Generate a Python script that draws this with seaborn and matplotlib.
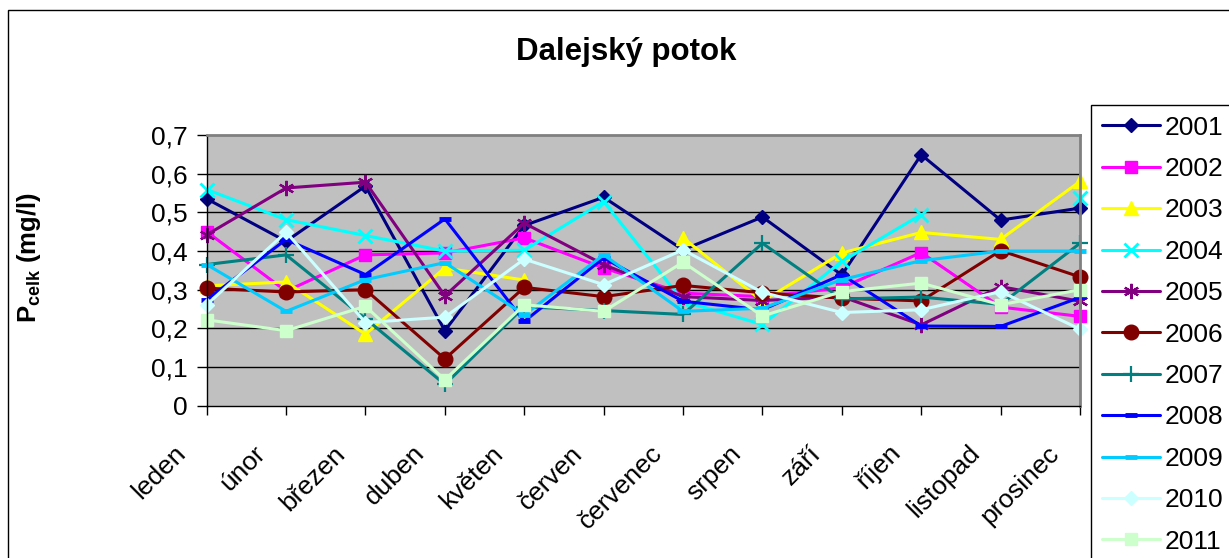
import numpy as np
import pandas as pd
import matplotlib
matplotlib.use("Agg")
import matplotlib.pyplot as plt
import matplotlib.transforms as mtransforms
from matplotlib.lines import Line2D
from matplotlib.patches import Rectangle
import seaborn as sns

# --- Data ---
months = ["leden", "únor", "březen", "duben", "květen", "červen",
          "červenec", "srpen", "září", "říjen", "listopad", "prosinec"]
years = ["2001", "2002", "2003", "2004", "2005", "2006",
         "2007", "2008", "2009", "2010", "2011"]

p2001 = [0.535, 0.425, 0.568, 0.194, 0.466, 0.539, 0.403, 0.488, 0.338, 0.649, 0.480, 0.511]
p2002 = [0.450, 0.296, 0.390, 0.395, 0.434, 0.356, 0.291, 0.282, 0.305, 0.396, 0.255, 0.231]
p2003 = [0.310, 0.320, 0.185, 0.356, 0.325, np.nan, 0.434, 0.270, 0.395, 0.448, 0.430, 0.580]
p2004 = [0.559, 0.481, 0.440, 0.400, 0.402, 0.528, 0.270, 0.210, 0.373, 0.494, np.nan, 0.537]
p2005 = [0.442, 0.563, 0.578, 0.284, 0.472, 0.365, 0.282, 0.272, 0.282, 0.209, 0.308, 0.270]
p2006 = [0.304, 0.294, 0.300, 0.121, 0.306, 0.282, 0.311, 0.292, 0.278, 0.271, 0.401, 0.333]
p2007 = [0.365, 0.390, 0.225, 0.055, 0.256, 0.246, 0.236, 0.420, 0.276, 0.281, 0.262, 0.420]
p2008 = [0.274, 0.430, 0.339, 0.483, 0.218, 0.382, 0.270, 0.248, 0.339, 0.206, 0.205, 0.280]
p2009 = [0.365, 0.244, 0.326, 0.370, 0.235, 0.390, 0.244, 0.252, 0.326, 0.375, 0.400, 0.400]
p2010 = [0.261, 0.449, 0.215, 0.229, 0.379, 0.313, 0.403, 0.293, 0.241, 0.248, 0.295, 0.198]
p2011 = [0.222, 0.194, 0.257, 0.067, 0.261, 0.244, 0.371, 0.232, 0.295, 0.317, 0.261, 0.300]

series = [p2001, p2002, p2003, p2004, p2005, p2006, p2007, p2008, p2009, p2010, p2011]

ytick_vals = [0, 0.1, 0.2, 0.3, 0.4, 0.5, 0.6, 0.7]
ytick_labels = ["0", "0,1", "0,2", "0,3", "0,4", "0,5", "0,6", "0,7"]

# --- Styles (Excel 2003 palette) ---
colors = ["#000080", "#FF00FF", "#FFFF00", "#00FFFF", "#800080", "#800000",
          "#008080", "#0000FF", "#00CCFF", "#CCFFFF", "#CCFFCC"]
markers = ["D", "s", "^", "x", (6, 2, 0), "o", "+", "_", "_", "D", "s"]
msizes = [7.5, 9, 10, 10, 11, 10.5, 11, 8, 8, 7.5, 9]
mews = [1, 1, 1, 2, 1.6, 1, 1.6, 3.5, 3.5, 1, 1]

# long table, with a segment id so missing months leave a gap
rows = []
for yr, vals in zip(years, series):
    seg = 0
    for i, v in enumerate(vals):
        if np.isnan(v):
            seg += 1
            continue
        rows.append({"year": yr, "idx": i, "val": v, "seg": seg})
df = pd.DataFrame(rows)

sns.set_style("ticks")
plt.rcParams["font.family"] = ["Liberation Sans", "DejaVu Sans"]
plt.rcParams["mathtext.fontset"] = "custom"
plt.rcParams["mathtext.rm"] = "Liberation Sans"
plt.rcParams["mathtext.bf"] = "Liberation Sans:bold"
for k in ["text.color", "axes.labelcolor", "xtick.color", "ytick.color"]:
    plt.rcParams[k] = "black"

W, H = 1229, 558
fig = plt.figure(figsize=(W / 100, H / 100), dpi=100)
fig.patch.set_facecolor("white")
ax = fig.add_axes([206.7 / W, 1 - 405.7 / H, (1080 - 206.7) / W, (405.7 - 135) / H])
ax.set_facecolor("#C0C0C0")

for yr, c, m, ms, mw in zip(years, colors, markers, msizes, mews):
    sub = df[df["year"] == yr]
    sns.lineplot(data=sub, x="idx", y="val", units="seg", estimator=None,
                 color=c, marker=m, markersize=ms, markeredgecolor=c,
                 markerfacecolor=c, markeredgewidth=mw, linewidth=2.2,
                 clip_on=False, legend=False, ax=ax)

ax.set_xlim(0, len(months) - 1)
ax.set_ylim(0, 0.7)
ax.set_yticks(ytick_vals)
ax.set_yticklabels(ytick_labels)
ax.set_xticks(range(len(months)))
ax.set_xticklabels(months, rotation=45, ha="right")
ax.set_xlabel("")
ax.set_ylabel(r"$\mathbf{P_{celk}}$ (mg/l)", fontsize=18.5, fontweight="bold")
ax.yaxis.set_label_coords(-0.187, 0.546)

for y in ytick_vals[1:-1]:
    ax.axhline(y, color="black", linewidth=1, zorder=0.5)

ax.tick_params(axis="y", direction="out", length=7, width=1, color="black",
               labelsize=19, pad=6.5)
ax.tick_params(axis="x", direction="out", length=6.5, width=1, color="black",
               labelsize=19, pad=19)
offset = mtransforms.ScaledTranslation(-0.16, 0, fig.dpi_scale_trans)
for lab in ax.get_xticklabels():
    lab.set_transform(lab.get_transform() + offset)

for side in ["left", "bottom"]:
    ax.spines[side].set_color("black")
    ax.spines[side].set_linewidth(1)
for side in ["top", "right"]:
    ax.spines[side].set_visible(True)
    ax.spines[side].set_color("#808080")
    ax.spines[side].set_linewidth(2)

fig.text(626 / W, 1 - 52 / H, "Dalejský potok", ha="center", va="center",
         fontsize=22.5, fontweight="bold")

# outer chart border
fig.patches.append(Rectangle((8 / W, -0.1), 1.2, 1 - 10 / H + 0.1,
                             transform=fig.transFigure, fill=False,
                             edgecolor="black", linewidth=1))

handles = [Line2D([], [], color=c, marker=m, markersize=ms, markeredgecolor=c,
                  markerfacecolor=c, markeredgewidth=mw, linewidth=2.2)
           for c, m, ms, mw in zip(colors, markers, msizes, mews)]
leg = fig.legend(handles, years, loc="upper left",
                 bbox_to_anchor=(1091 / W, 1 - 105 / H), borderaxespad=0,
                 fontsize=19, frameon=True, fancybox=False, framealpha=1,
                 edgecolor="black", labelspacing=0.66, handlelength=2.2,
                 handletextpad=0.2, borderpad=0.4)
leg.get_frame().set_linewidth(1)

fig.savefig("out.png", dpi=100)
